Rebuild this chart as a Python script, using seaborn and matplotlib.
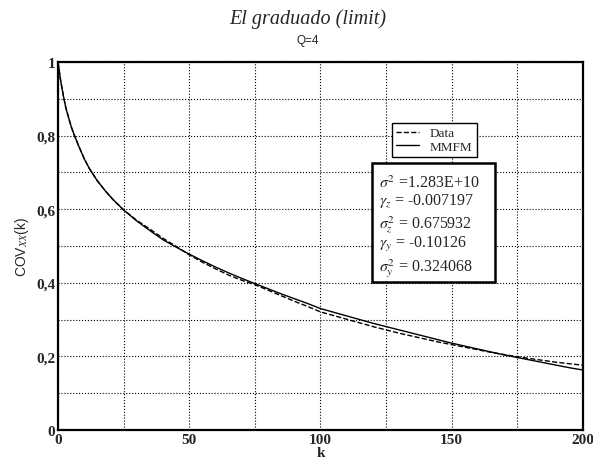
import numpy as np
import pandas as pd
import matplotlib
matplotlib.use("Agg")
import matplotlib.pyplot as plt
import seaborn as sns
from matplotlib.patches import Rectangle

# lag k and autocovariance
k = [0, 1, 2, 3, 4, 5, 6, 8, 10, 12, 15, 18, 21, 25, 30, 35, 40, 45, 50, 55,
     60, 65, 70, 75, 80, 85, 90, 95, 100, 105, 110, 115, 120, 125, 130, 135,
     140, 145, 150, 155, 160, 165, 170, 175, 180, 185, 190, 195, 200]

mmfm = [1.0, 0.95, 0.91, 0.875, 0.85, 0.825, 0.805, 0.77, 0.737, 0.71, 0.677,
        0.65, 0.626, 0.598, 0.568, 0.542, 0.517, 0.497, 0.478, 0.460, 0.443,
        0.427, 0.412, 0.398, 0.384, 0.370, 0.357, 0.344, 0.330, 0.320, 0.310,
        0.300, 0.290, 0.281, 0.272, 0.263, 0.254, 0.245, 0.236, 0.228, 0.220,
        0.212, 0.204, 0.197, 0.190, 0.183, 0.176, 0.169, 0.163]

data = [1.0, 0.95, 0.91, 0.875, 0.85, 0.825, 0.805, 0.77, 0.737, 0.71, 0.677,
        0.65, 0.626, 0.598, 0.570, 0.546, 0.521, 0.499, 0.476, 0.456, 0.438,
        0.421, 0.407, 0.395, 0.380, 0.365, 0.350, 0.336, 0.321, 0.311, 0.301,
        0.291, 0.281, 0.272, 0.263, 0.255, 0.247, 0.239, 0.232, 0.225, 0.218,
        0.211, 0.205, 0.199, 0.194, 0.189, 0.184, 0.180, 0.176]

params = [r"$\sigma^2$ =1.283E+10",
          r"$\gamma_z$ = -0.007197",
          r"$\sigma^2_z$ = 0.675932",
          r"$\gamma_y$ = -0.10126",
          r"$\sigma^2_y$ = 0.324068"]

sns.set_style("white")
plt.rcParams['font.family'] = ['Liberation Serif', 'DejaVu Serif']
plt.rcParams['mathtext.fontset'] = 'stix'

fig = plt.figure(figsize=(5.93, 4.64), dpi=100)
ax = fig.add_axes([0.0978, 0.0711, 0.8853, 0.7931])

sns.lineplot(x=k, y=data, ax=ax, color='black', lw=1.0, linestyle='--', label='Data')
sns.lineplot(x=k, y=mmfm, ax=ax, color='black', lw=1.0, label='MMFM')

ax.set_xlim(0, 200)
ax.set_ylim(0, 1)
ax.set_xticks([0, 50, 100, 150, 200])
ax.set_xticks(np.arange(0, 201, 25), minor=True)
ax.set_yticks([0, 0.2, 0.4, 0.6, 0.8, 1.0])
ax.set_yticklabels(['0', '0,2', '0,4', '0,6', '0,8', '1'])
ax.set_yticks(np.arange(0, 1.01, 0.1), minor=True)
ax.grid(True, which='both', color='black', linestyle=':', lw=0.8)
ax.tick_params(which='both', length=0, labelsize=11, pad=2)
for lab in ax.get_xticklabels() + ax.get_yticklabels():
    lab.set_fontweight('bold')
for s in ax.spines.values():
    s.set_color('black')
    s.set_linewidth(1.6)

ax.set_xlabel('k', fontsize=11, fontweight='bold', labelpad=0)
ax.set_ylabel(r'COV$_{XX}$(k)', fontsize=10, family='Liberation Sans', labelpad=4)

leg = ax.legend(loc='upper left', bbox_to_anchor=(0.623, 0.852), fancybox=False,
                edgecolor='black', framealpha=1, fontsize=9.5, handlelength=1.8,
                borderpad=0.3, labelspacing=0.1)
leg.get_frame().set_linewidth(1.0)

ax.add_patch(Rectangle((0.5975, 0.402), 0.2345, 0.3235, transform=ax.transAxes,
                       facecolor='white', edgecolor='black', lw=1.8, zorder=5))
ys = [0.672, 0.623, 0.562, 0.508, 0.440]
for txt, y in zip(params, ys):
    ax.text(0.612, y, txt, transform=ax.transAxes, fontsize=11.5,
            ha='left', va='center', zorder=6)

fig.text(308 / 593, 1 - 19 / 464, 'El graduado (limit)', fontsize=14.5,
         style='italic', ha='center', va='center')
fig.text(308 / 593, 1 - 41 / 464, 'Q=4', fontsize=8.5, family='Liberation Sans',
         ha='center', va='center')

fig.savefig('out.png', dpi=100)
